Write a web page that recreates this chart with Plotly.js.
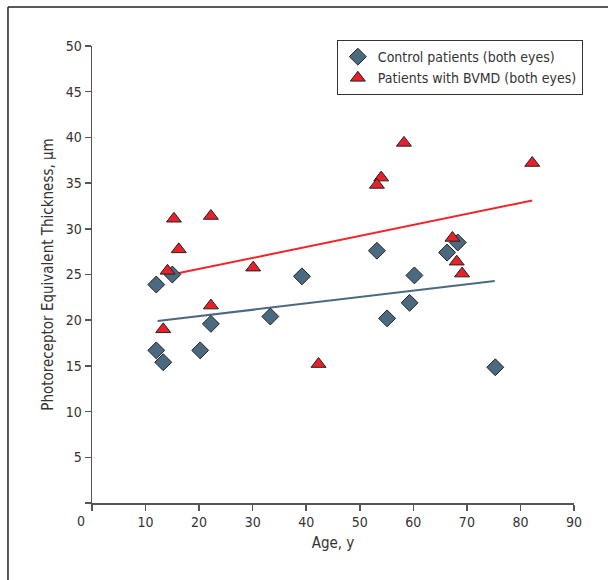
<!DOCTYPE html>
<html>
<head>
<meta charset="utf-8">
<script src="https://cdn.plot.ly/plotly-3.0.1.min.js"></script>
<style>html,body{margin:0;padding:0;background:#fff;}#chart{width:608px;height:580px;}</style>
</head>
<body>
<div id="chart"></div>
<script>
// Control patients (both eyes)
const controlAge = [12, 15, 12, 13.3, 20.2, 22.2, 33.3, 39.2, 53.2, 55.1, 60.2, 59.3, 66.3, 68.3, 75.3];
const controlThk = [23.9, 25.0, 16.7, 15.4, 16.7, 19.6, 20.4, 24.8, 27.6, 20.2, 24.9, 21.9, 27.4, 28.5, 14.85];
// Patients with BVMD (both eyes)
const bvmdAge = [15.3, 22.2, 16.2, 14.1, 30.1, 22.2, 13.3, 42.3, 58.25, 54.0, 53.2, 82.2, 67.3, 68.1, 69.1];
const bvmdThk = [31.1, 31.4, 27.75, 25.4, 25.75, 21.6, 19.0, 15.2, 39.4, 35.6, 34.8, 37.2, 29.0, 26.4, 25.1];
// Regression lines (end points)
const controlFitX = [12.25, 75.2];
const controlFitY = [19.9, 24.3];
const bvmdFitX = [15.8, 82.2];
const bvmdFitY = [25.1, 33.1];

const xTicks = [0, 10, 20, 30, 40, 50, 60, 70, 80, 90];
const xTickText = ['', '10', '20', '30', '40', '50', '60', '70', '80', '90'];
const yTicks = [0, 5, 10, 15, 20, 25, 30, 35, 40, 45, 50];
const yTickText = ['', '5', '10', '15', '20', '25', '30', '35', '40', '45', '50'];

const FONT = '"Liberation Sans Narrow", "DejaVu Sans Condensed", Arial, sans-serif';
const BLUE = '#4b6a80';
const RED = '#e8202a';

const traces = [
  {x: controlFitX, y: controlFitY, mode: 'lines', line: {color: BLUE, width: 2}, showlegend: false, hoverinfo: 'skip'},
  {x: bvmdFitX, y: bvmdFitY, mode: 'lines', line: {color: '#f0262b', width: 2}, showlegend: false, hoverinfo: 'skip'},
  {x: controlAge, y: controlThk, mode: 'markers', name: 'Control patients (both eyes)',
   marker: {symbol: 'diamond', size: 13, color: BLUE, line: {color: '#222', width: 1}}},
  {x: bvmdAge, y: bvmdThk, mode: 'markers', name: 'Patients with BVMD (both eyes)',
   marker: {symbol: 'triangle-up', size: 13, color: RED, line: {color: '#222', width: 1}}}
];

const layout = {
  width: 608, height: 580,
  margin: {l: 92, r: 34, t: 46, b: 77},
  paper_bgcolor: '#fff', plot_bgcolor: '#fff',
  font: {family: FONT, size: 14, color: '#333'},
  xaxis: {
    range: [0, 90], tickvals: xTicks, ticktext: xTickText, ticks: 'outside', ticklen: 6,
    tickcolor: '#555', tickwidth: 1.5, showline: true, linecolor: '#555', linewidth: 1.5,
    showgrid: false, zeroline: false, fixedrange: true,
    title: {text: 'Age, y', font: {family: FONT, size: 15, color: '#333'}, standoff: 8}
  },
  yaxis: {
    range: [0, 50], tickvals: yTicks, ticktext: yTickText, ticks: 'outside', ticklen: 6,
    tickcolor: '#555', tickwidth: 1.5, showline: true, linecolor: '#555', linewidth: 1.5,
    showgrid: false, zeroline: false, fixedrange: true,
    title: {text: 'Photoreceptor Equivalent Thickness, μm', font: {family: FONT, size: 15, color: '#333'}, standoff: 8}
  },
  legend: {
    x: 0.508, y: 1.013, xanchor: 'left', yanchor: 'top',
    bgcolor: '#fff', bordercolor: '#333', borderwidth: 1,
    font: {family: FONT, size: 14, color: '#333'}, itemwidth: 30, tracegroupgap: 2
  },
  annotations: [
    {text: '0', xref: 'paper', yref: 'paper', x: -0.023, y: -0.018, xanchor: 'center', yanchor: 'top',
     showarrow: false, font: {family: FONT, size: 14, color: '#333'}}
  ],
  shapes: [
    {type: 'line', xref: 'paper', yref: 'paper', x0: -0.1743, x1: -0.1743, y0: 1.0853, y1: -0.2, line: {color: '#222', width: 1.5}},
    {type: 'line', xref: 'paper', yref: 'paper', x0: -0.1743, x1: 1.1, y0: 1.0853, y1: 1.0853, line: {color: '#222', width: 1.5}}
  ],
  showlegend: true
};

Plotly.newPlot('chart', traces, layout, {staticPlot: true, displayModeBar: false});
</script>
</body>
</html>
